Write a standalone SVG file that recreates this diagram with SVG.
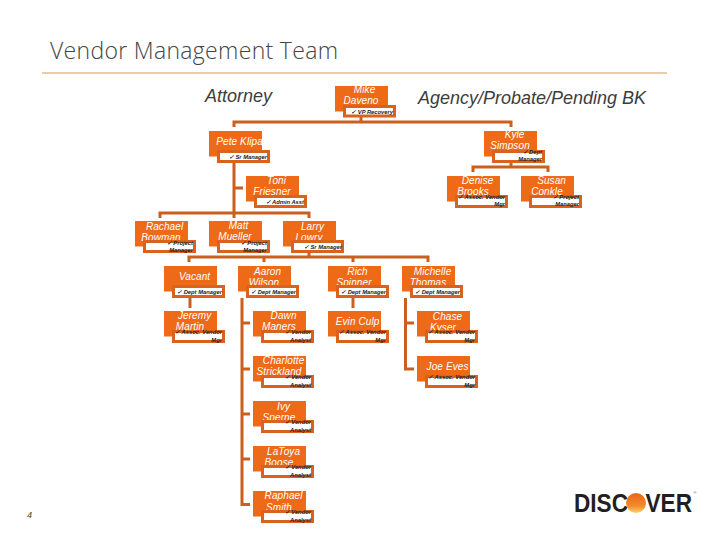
<svg xmlns="http://www.w3.org/2000/svg" width="720" height="540" viewBox="0 0 720 540">
<style>
.b{fill:#ef6a17}
.s{fill:#fff;stroke:#d9621f;stroke-width:3}
.n{font:italic 10px "Liberation Sans",Arial,sans-serif;fill:#fff;text-anchor:middle;letter-spacing:.1px}
.n tspan{font:6px "DejaVu Sans",sans-serif;fill:#c9803f}
.l{font:italic bold 5.8px "Liberation Sans",Arial,sans-serif;fill:#222;text-anchor:end}
.h{font:italic 18px "Liberation Sans",Arial,sans-serif;fill:#3c3c3c}
#connectors path{fill:none;stroke:#c9601f;stroke-width:3}
</style>
<defs>
<linearGradient id="sun" x1="0" y1="0" x2="0" y2="1"><stop offset="0" stop-color="#e8641c"/><stop offset=".65" stop-color="#f28c28"/><stop offset="1" stop-color="#fbd070"/></linearGradient>
</defs>
<text x="50" y="59" font-family="Open Sans,sans-serif" font-weight="300" font-size="23" fill="#444" textLength="288">Vendor Management Team</text>
<path d="M42 73H667" stroke="#d39a52" stroke-width="1"/>
<text class="h" x="205" y="102" textLength="67" lengthAdjust="spacingAndGlyphs">Attorney</text>
<text class="h" x="418" y="104" textLength="228" lengthAdjust="spacingAndGlyphs">Agency/Probate/Pending BK</text>
<text x="27" y="518" font-family="Liberation Sans,sans-serif" font-style="italic" font-size="9" fill="#444">4</text>
<g id="connectors">
<path d="M361 117V122M234 127V122H511V127"/>
<path d="M234 163V218M160 218V213H309V218M234 188H243"/>
<path d="M309 253V257M189 262V257H428V262M264 257V262M353 257V262"/>
<path d="M511 163V167M473 172V167H548V172"/>
<path d="M190 298V308M353 298V308"/>
<path d="M242 298V504.500H250M242 323H250M242 369H250M242 414H250M242 459H250"/>
<path d="M405.500 298V369H414M405.500 323H414"/>
</g>
<g id="mike"><rect class="b" x="335" y="86" width="53" height="25.500"/><text class="n" x="361" y="93"><tspan>✓ </tspan>Mike</text><text class="n" x="361" y="103.500">Daveno</text><rect class="s" x="344.500" y="106.500" width="50" height="9.500"/><text class="l" x="393" y="113.500">✓ VP Recovery</text></g>
<g id="pete"><rect class="b" x="209" y="131" width="53" height="25.500"/><text class="n" x="236" y="145"><tspan>✓ </tspan>Pete Klipa</text><rect class="s" x="218.500" y="151.500" width="50" height="10"/><text class="l" x="267" y="158.500">✓ Sr Manager</text></g>
<g id="kyle"><rect class="b" x="484" y="131" width="53" height="25.500"/><text class="n" x="511" y="138"><tspan>✓ </tspan>Kyle</text><text class="n" x="510" y="149">Simpson</text><rect class="s" x="493.500" y="151.500" width="50" height="10"/><text class="l" x="542" y="154">✓ Dept</text><text class="l" x="542" y="161">Manager</text></g>
<g id="toni"><rect class="b" x="246" y="176" width="53" height="25.500"/><text class="n" x="273" y="184"><tspan>✓ </tspan>Toni</text><text class="n" x="272" y="194.500">Friesner</text><rect class="s" x="255.500" y="196.500" width="50" height="10"/><text class="l" x="304" y="204">✓ Admin Asst</text></g>
<g id="denise"><rect class="b" x="447" y="176" width="53" height="25.500"/><text class="n" x="474" y="184"><tspan>✓ </tspan>Denise</text><text class="n" x="473" y="194.500">Brooks</text><rect class="s" x="456.500" y="196.500" width="50" height="10"/><text class="l" x="505" y="199">✓ Assoc. Vendor</text><text class="l" x="505" y="206">Mgr</text></g>
<g id="susan"><rect class="b" x="521" y="176" width="53" height="25.500"/><text class="n" x="548" y="184"><tspan>✓ </tspan>Susan</text><text class="n" x="547" y="194.500">Conkle</text><rect class="s" x="530.500" y="196.500" width="50" height="10"/><text class="l" x="579" y="199">✓ Project</text><text class="l" x="579" y="206">Manager</text></g>
<g id="rachael"><rect class="b" x="135" y="221" width="53" height="25.500"/><text class="n" x="161" y="230"><tspan>✓ </tspan>Rachael</text><text class="n" x="161" y="241">Bowman</text><rect class="s" x="144.500" y="241.500" width="50" height="10"/><text class="l" x="193" y="245">✓ Project</text><text class="l" x="193" y="252">Manager</text></g>
<g id="matt"><rect class="b" x="209" y="221" width="53" height="25.500"/><text class="n" x="235" y="229"><tspan>✓ </tspan>Matt</text><text class="n" x="235" y="240">Mueller</text><rect class="s" x="218.500" y="241.500" width="50" height="10"/><text class="l" x="267" y="245">✓ Project</text><text class="l" x="267" y="252">Manager</text></g>
<g id="larry"><rect class="b" x="283" y="221" width="53" height="25.500"/><text class="n" x="309" y="230"><tspan>✓ </tspan>Larry</text><text class="n" x="309" y="241">Lowry</text><rect class="s" x="292.500" y="241.500" width="50" height="10"/><text class="l" x="342" y="248.500">✓ Sr Manager</text></g>
<g id="vacant"><rect class="b" x="164" y="266" width="53" height="25.500"/><text class="n" x="191" y="280"><tspan>✓ </tspan>Vacant</text><rect class="s" x="173.500" y="286.500" width="50" height="10"/><text class="l" x="222" y="293.500">✓ Dept Manager</text></g>
<g id="aaron"><rect class="b" x="238" y="266" width="53" height="25.500"/><text class="n" x="264" y="275"><tspan>✓ </tspan>Aaron</text><text class="n" x="264" y="286">Wilson</text><rect class="s" x="247.500" y="286.500" width="50" height="10"/><text class="l" x="296" y="293.500">✓ Dept Manager</text></g>
<g id="rich"><rect class="b" x="328" y="266" width="53" height="25.500"/><text class="n" x="354" y="275"><tspan>✓ </tspan>Rich</text><text class="n" x="354" y="286">Spinner</text><rect class="s" x="337.500" y="286.500" width="50" height="10"/><text class="l" x="386" y="293.500">✓ Dept Manager</text></g>
<g id="michelle"><rect class="b" x="402" y="266" width="53" height="25.500"/><text class="n" x="429" y="275"><tspan>✓ </tspan>Michelle</text><text class="n" x="428" y="286">Thomas</text><rect class="s" x="411.500" y="286.500" width="50" height="10"/><text class="l" x="460" y="293.500">✓ Dept Manager</text></g>
<g id="jeremy"><rect class="b" x="164" y="311" width="53" height="25.500"/><text class="n" x="191" y="319"><tspan>✓ </tspan>Jeremy</text><text class="n" x="190" y="330">Martin</text><rect class="s" x="173.500" y="331.500" width="50" height="10"/><text class="l" x="222" y="334">✓ Assoc. Vendor</text><text class="l" x="222" y="341.500">Mgr</text></g>
<g id="dawn"><rect class="b" x="253" y="311" width="53" height="25.500"/><text class="n" x="280" y="319"><tspan>✓ </tspan>Dawn</text><text class="n" x="279" y="330">Maners</text><rect class="s" x="262.500" y="331.500" width="50" height="10"/><text class="l" x="311" y="334">✓ Vendor</text><text class="l" x="311" y="341.500">Analyst</text></g>
<g id="evin"><rect class="b" x="328" y="311" width="53" height="25.500"/><text class="n" x="354" y="325"><tspan>✓ </tspan>Evin Culp</text><rect class="s" x="337.500" y="331.500" width="50" height="10"/><text class="l" x="386" y="334">✓ Assoc. Vendor</text><text class="l" x="386" y="341.500">Mgr</text></g>
<g id="chase"><rect class="b" x="417" y="311" width="53" height="25.500"/><text class="n" x="444" y="320"><tspan>✓ </tspan>Chase</text><text class="n" x="443" y="331">Kyser</text><rect class="s" x="426.500" y="331.500" width="50" height="10"/><text class="l" x="475" y="334">✓ Assoc. Vendor</text><text class="l" x="475" y="341.500">Mgr</text></g>
<g id="charlotte"><rect class="b" x="253" y="356" width="53" height="25.500"/><text class="n" x="280" y="364"><tspan>✓ </tspan>Charlotte</text><text class="n" x="279" y="375">Strickland</text><rect class="s" x="262.500" y="376.500" width="50" height="10"/><text class="l" x="311" y="379">✓ Vendor</text><text class="l" x="311" y="386.500">Analyst</text></g>
<g id="joe"><rect class="b" x="417" y="356" width="53" height="25.500"/><text class="n" x="444" y="370"><tspan>✓ </tspan>Joe Eves</text><rect class="s" x="426.500" y="376.500" width="50" height="10"/><text class="l" x="475" y="379">✓ Assoc. Vendor</text><text class="l" x="475" y="386.500">Mgr</text></g>
<g id="ivy"><rect class="b" x="253" y="401" width="53" height="25.500"/><text class="n" x="280" y="410"><tspan>✓ </tspan>Ivy</text><text class="n" x="279" y="421">Sperne</text><rect class="s" x="262.500" y="421.500" width="50" height="10"/><text class="l" x="311" y="424">✓ Vendor</text><text class="l" x="311" y="431.500">Analyst</text></g>
<g id="latoya"><rect class="b" x="253" y="446" width="53" height="25.500"/><text class="n" x="280" y="455"><tspan>✓ </tspan>LaToya</text><text class="n" x="279" y="465.500">Boose</text><rect class="s" x="262.500" y="466.500" width="50" height="10"/><text class="l" x="311" y="469">✓ Vendor</text><text class="l" x="311" y="476.500">Analyst</text></g>
<g id="raphael"><rect class="b" x="253" y="491" width="53" height="25.500"/><text class="n" x="280" y="499"><tspan>✓ </tspan>Raphael</text><text class="n" x="279" y="510.500">Smith</text><rect class="s" x="262.500" y="511.500" width="50" height="10"/><text class="l" x="311" y="514">✓ Vendor</text><text class="l" x="311" y="521.500">Analyst</text></g>
<g id="logo"><text x="574" y="512" font-family="Liberation Sans,sans-serif" font-weight="700" font-size="26" fill="#231f20" textLength="118" lengthAdjust="spacingAndGlyphs">DISCOVER</text><circle cx="636" cy="503" r="10" fill="url(#sun)"/><text x="693.500" y="494" font-family="Liberation Sans,sans-serif" font-size="4" fill="#555">®</text></g>
</svg>
